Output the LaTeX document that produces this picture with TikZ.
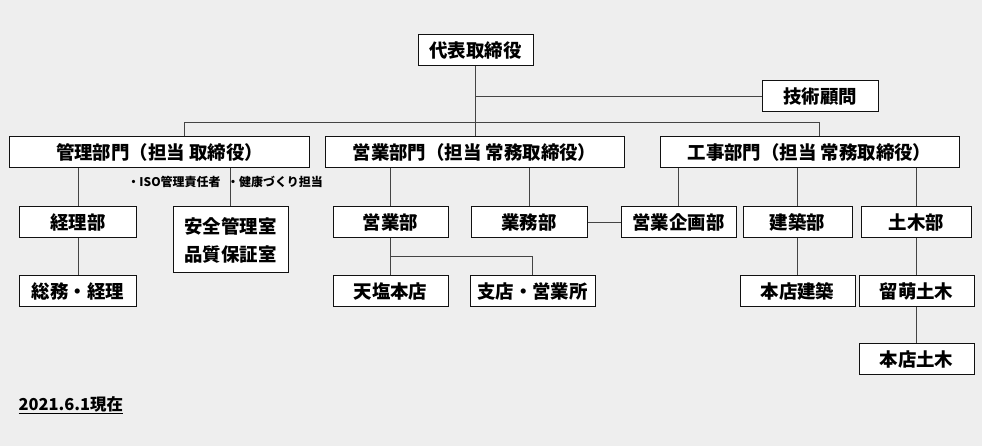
\documentclass[tikz,border=0pt]{standalone}
\usepackage{fontspec}
\setmainfont{Noto Sans CJK JP}
\usepackage{tikz}
\usetikzlibrary{calc}
\definecolor{paper}{HTML}{EEEEEE}
\definecolor{ink}{HTML}{111111}
\definecolor{cwire}{HTML}{444444}
\tikzset{
  every picture/.style={line width=1bp},
  bx/.style={draw=ink,fill=white,inner sep=0pt,minimum height=31bp,align=center,font=\fontsize{18.5}{28}\selectfont\bfseries},
  note/.style={inner sep=0pt,font=\fontsize{12}{14}\selectfont\bfseries},
  wire/.style={draw=cwire,line width=1bp},
}
\begin{document}
\begin{tikzpicture}[x=1bp,y=-1bp]
  \fill[paper] (0,0) rectangle (982,446);
  \node[bx,minimum width=115bp] (ceo) at (475.5,50.5) {代表取締役};
  \node[bx,minimum width=116bp] (giken) at (820,96.5) {技術顧問};
  \node[bx,minimum width=299bp] (kanri) at (159.5,152.5) {管理部門（担当 取締役）};
  \node[bx,minimum width=299bp] (eigyo) at (474.5,152.5) {営業部門（担当 常務取締役）};
  \node[bx,minimum width=299bp] (koji) at (809.5,152.5) {工事部門（担当 常務取締役）};
  \node[note] (iso) at (174,182) {・ISO管理責任者};
  \node[note] (kenko) at (275,182) {・健康づくり担当};
  \node[bx,minimum width=116bp] (keiri) at (78,222.5) {経理部};
  \node[bx,minimum width=115bp,minimum height=66bp] (anzen) at (230.5,240) {安全管理室\\品質保証室};
  \node[bx,minimum width=115bp] (eigyobu) at (390.5,222.5) {営業部};
  \node[bx,minimum width=116bp] (gyomu) at (529,222.5) {業務部};
  \node[bx,minimum width=115bp] (kikaku) at (678.5,222.5) {営業企画部};
  \node[bx,minimum width=109bp] (kenchiku) at (797.5,222.5) {建築部};
  \node[bx,minimum width=110bp] (doboku) at (916.5,222.5) {土木部};
  \node[bx,minimum width=116bp] (somu) at (78,291.5) {総務・経理};
  \node[bx,minimum width=115bp] (teshio) at (390.5,291.5) {天塩本店};
  \node[bx,minimum width=125bp] (shiten) at (532.5,291.5) {支店・営業所};
  \node[bx,minimum width=115bp] (honken) at (797.5,291.5) {本店建築};
  \node[bx,minimum width=115bp] (rumoi) at (916.5,291.5) {留萌土木};
  \node[bx,minimum width=115bp] (hondo) at (916.5,359.5) {本店土木};
  \node[inner sep=0pt,anchor=west,font=\fontsize{16.5}{18}\selectfont\bfseries] (asof) at (18,405) {\underline{2021.6.1現在}};
  \draw[wire] (ceo.south) -- (ceo.south |- eigyo.north);
  \draw[wire] (ceo.south |- giken.west) -- (giken.west);
  \draw[wire] ([xshift=24.5bp]kanri.north) -- ++(0,-14) -| ([xshift=9.5bp]koji.north);
  \draw[wire] (keiri.north |- kanri.south) -- (keiri.north);
  \draw[wire] (anzen.north |- kanri.south) -- (anzen.north);
  \draw[wire] (eigyobu.north |- eigyo.south) -- (eigyobu.north);
  \draw[wire] (gyomu.north |- eigyo.south) -- (gyomu.north);
  \draw[wire] (kikaku.north |- koji.south) -- (kikaku.north);
  \draw[wire] (kenchiku.north |- koji.south) -- (kenchiku.north);
  \draw[wire] (doboku.north |- koji.south) -- (doboku.north);
  \draw[wire] (gyomu) -- (kikaku);
  \draw[wire] (keiri) -- (somu);
  \draw[wire] (eigyobu) -- (teshio);
  \draw[wire] ($(eigyobu.south)!0.5!(teshio.north)$) -| (shiten.north);
  \draw[wire] (kenchiku) -- (honken);
  \draw[wire] (doboku) -- (rumoi);
  \draw[wire] (rumoi) -- (hondo);
\end{tikzpicture}
\end{document}
